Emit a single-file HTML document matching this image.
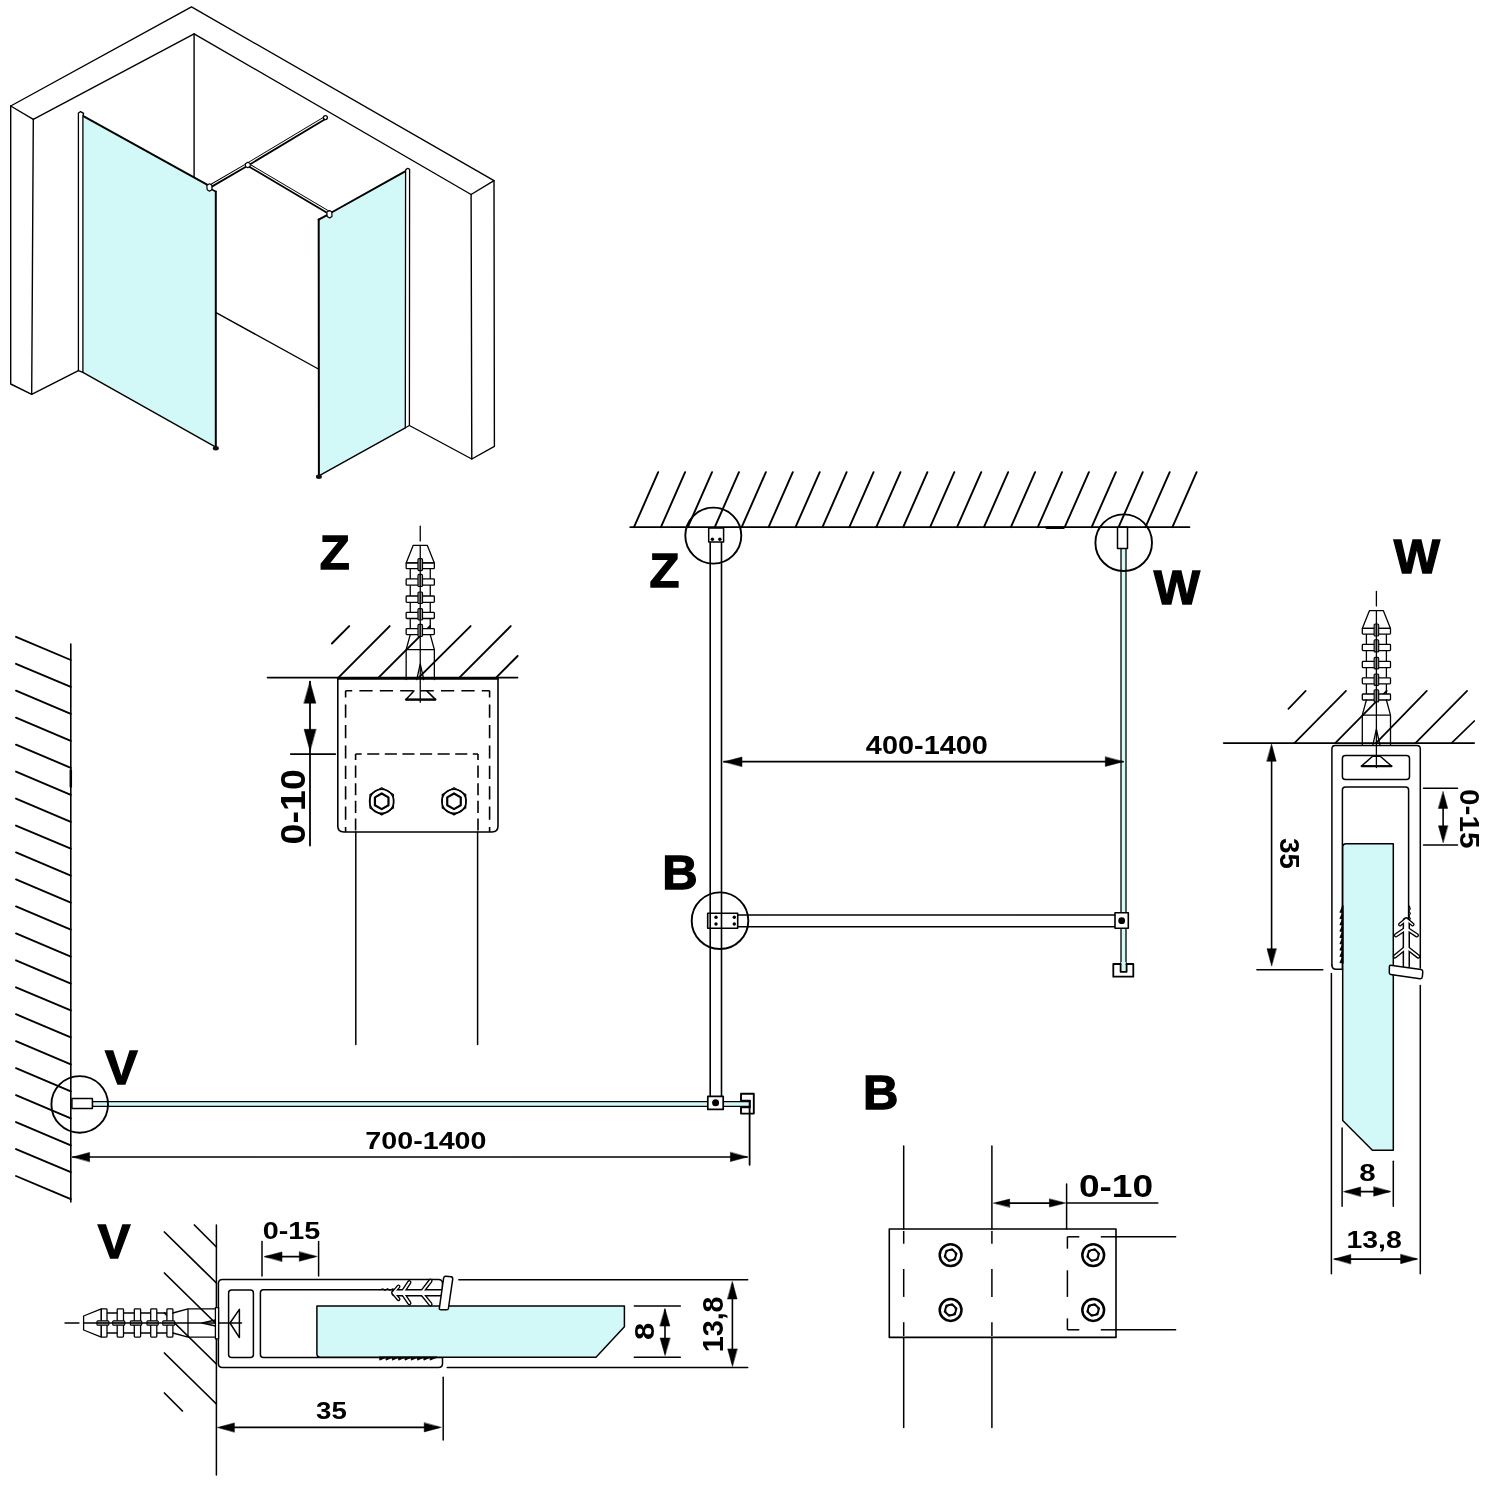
<!DOCTYPE html>
<html><head><meta charset="utf-8"><style>html,body{margin:0;padding:0;background:#fff;}svg{display:block;will-change:transform;} text{-webkit-font-smoothing:antialiased;}</style></head>
<body><svg width="1500" height="1500" viewBox="0 0 1500 1500" stroke="#000" stroke-linecap="round" stroke-linejoin="round" fill="none">
<rect x="0" y="0" width="1500" height="1500" fill="#fff" stroke="none"/>
<defs><g id="dowel" stroke="#000" fill="none" stroke-linecap="round" stroke-linejoin="round">
<path d="M-7,0 L7,0 L14.1,17.7 L-14.1,17.7 Z" stroke-width="1.3" fill="#fff" />
<line x1="-10" y1="23.4" x2="-10" y2="33.6" stroke-width="1.3" />
<line x1="10" y1="23.4" x2="10" y2="33.6" stroke-width="1.3" />
<line x1="-10" y1="39.9" x2="-10" y2="50.7" stroke-width="1.3" />
<line x1="10" y1="39.9" x2="10" y2="50.7" stroke-width="1.3" />
<line x1="-10" y1="57" x2="-10" y2="67.1" stroke-width="1.3" />
<line x1="10" y1="57" x2="10" y2="67.1" stroke-width="1.3" />
<line x1="-10" y1="73.2" x2="-10" y2="83.3" stroke-width="1.3" />
<line x1="10" y1="73.2" x2="10" y2="83.3" stroke-width="1.3" />
<rect x="-14.1" y="17.7" width="28.2" height="5.7" rx="0.8" stroke-width="1.3" fill="#fff" />
<rect x="-14.1" y="33.6" width="28.2" height="6.3" rx="0.8" stroke-width="1.3" fill="#fff" />
<rect x="-14.1" y="50.7" width="28.2" height="6.3" rx="0.8" stroke-width="1.3" fill="#fff" />
<rect x="-14.1" y="67.1" width="28.2" height="6.1" rx="0.8" stroke-width="1.3" fill="#fff" />
<rect x="-14.1" y="83.3" width="28.2" height="6" rx="0.8" stroke-width="1.3" fill="#fff" />
<path d="M-10,89.3 L-14.1,104.4 L-14.1,134.2 M10,89.3 L14.1,104.4 L14.1,134.2 M-14.1,104.4 L14.1,104.4" stroke-width="1.3" fill="none" />
<rect x="-2.3" y="13.3" width="4.6" height="12" rx="1" stroke-width="1.1" fill="#999" />
<rect x="-2.3" y="29.1" width="4.6" height="12.1" rx="1" stroke-width="1.1" fill="#999" />
<rect x="-2.3" y="46.7" width="4.6" height="11.5" rx="1" stroke-width="1.1" fill="#999" />
<rect x="-2.3" y="63.3" width="4.6" height="11.4" rx="1" stroke-width="1.1" fill="#999" />
<rect x="-2.3" y="79.1" width="4.6" height="12.1" rx="1" stroke-width="1.1" fill="#999" />
<path d="M-3.5,134.2 L0,118.5 L3.5,134.2" stroke-width="1.3" fill="none" />
</g></defs>
<g id="iso">
<path d="M82.9,115.8 L207.1,184.6 L211.5,189.2 L215.8,191.6 L215.8,447.2 L82.9,372.3 Z" stroke-width="0" fill="#d3f8f8" stroke="none"/>
<path d="M318.7,219.6 L327,215 L405.6,171.1 L405.3,427.8 L318.9,475.8 Z" stroke-width="0" fill="#d3f8f8" stroke="none"/>
<path d="M10.7,106 L191.5,6.9 L494,180.6 L471.1,194.5 L194.1,33.8 L33.3,119.3 Z" stroke-width="1.4" fill="none" />
<path d="M10.7,106 L10.7,384 L31.7,394.3 L78.4,370.6" stroke-width="1.4" fill="none" />
<line x1="33.3" y1="119.3" x2="31.7" y2="394.3" stroke-width="1.4" />
<line x1="194.1" y1="33.8" x2="194.1" y2="177.4" stroke-width="1.4" />
<path d="M494,180.6 L494.4,446.3 L471.8,459 L409.4,425.5" stroke-width="1.4" fill="none" />
<line x1="471.1" y1="194.5" x2="471.8" y2="459" stroke-width="1.4" />
<line x1="216.5" y1="312.8" x2="318.4" y2="369" stroke-width="1.4" />
<line x1="82.9" y1="115.8" x2="207.5" y2="184.8" stroke-width="2.0" />
<line x1="211.5" y1="189.2" x2="215.8" y2="191.6" stroke-width="1.6" />
<line x1="215.8" y1="191.6" x2="215.8" y2="447.2" stroke-width="2.0" />
<line x1="82.9" y1="372.3" x2="215.8" y2="447.2" stroke-width="1.4" />
<path d="M78.4,113 L80.6,111.6 L83.6,113.4 L82.9,115.8 L82.9,372.3 L78.4,370.6 Z" stroke-width="1.3" fill="#fff" />
<line x1="318.7" y1="219.6" x2="327.5" y2="214.8" stroke-width="2.0" />
<line x1="331.5" y1="212.5" x2="405.6" y2="171.1" stroke-width="2.0" />
<line x1="318.7" y1="219.6" x2="318.9" y2="475.8" stroke-width="2.0" />
<line x1="318.9" y1="475.8" x2="405.3" y2="427.8" stroke-width="1.4" />
<path d="M405.6,171.1 L405.8,169.6 L407.8,168.3 L409.6,169.4 L409.4,425.5 L405.3,427.8 Z" stroke-width="1.3" fill="#fff" />
<line x1="210" y1="186.5" x2="247.6" y2="164.6" stroke-width="3.8" />
<line x1="209.77" y1="186.11" x2="247.37" y2="164.21" stroke-width="1.1" stroke="#fff"/>
<line x1="247.6" y1="164.6" x2="324.5" y2="118.3" stroke-width="3.8" />
<line x1="247.37" y1="164.21" x2="324.27" y2="117.91" stroke-width="1.1" stroke="#fff"/>
<line x1="247.6" y1="164.6" x2="328.3" y2="212.3" stroke-width="3.8" />
<line x1="247.83" y1="164.21" x2="328.53" y2="211.91" stroke-width="1.1" stroke="#fff"/>
<path d="M206.8,185.4 L209.4,183.8 L211.8,185 L212,189.6 L209.6,191.2 L207.2,189.8 Z" stroke-width="1.2" fill="#fff" />
<path d="M326.8,212.2 L329.4,210.6 L331.8,211.8 L332,216.4 L329.6,218 L327.2,216.6 Z" stroke-width="1.2" fill="#fff" />
<path d="M245.4,163.8 L247.8,162.2 L250.2,163.6 L250.2,166.2 L247.8,167.8 L245.4,166.4 Z" stroke-width="1.1" fill="#fff" />
<circle cx="325.4" cy="117.6" r="2" stroke-width="1.3" fill="#fff" />
<ellipse cx="215.8" cy="448.3" rx="3" ry="2.2" fill="#111" stroke="none"/>
<ellipse cx="318.9" cy="476.8" rx="3" ry="2.2" fill="#111" stroke="none"/>
</g>
<g id="plan">
<line x1="630.3" y1="527.2" x2="1189.4" y2="527.2" stroke-width="1.8" />
<line x1="1046.6" y1="527.6" x2="1063.6" y2="527.6" stroke-width="2.6" />
<line x1="634" y1="527.2" x2="658.2" y2="472.2" stroke-width="1.9" />
<line x1="660.92" y1="527.2" x2="685.12" y2="472.2" stroke-width="1.9" />
<line x1="687.84" y1="527.2" x2="712.04" y2="472.2" stroke-width="1.9" />
<line x1="714.76" y1="527.2" x2="738.96" y2="472.2" stroke-width="1.9" />
<line x1="741.68" y1="527.2" x2="765.88" y2="472.2" stroke-width="1.9" />
<line x1="768.6" y1="527.2" x2="792.8" y2="472.2" stroke-width="1.9" />
<line x1="795.52" y1="527.2" x2="819.72" y2="472.2" stroke-width="1.9" />
<line x1="822.44" y1="527.2" x2="846.64" y2="472.2" stroke-width="1.9" />
<line x1="849.36" y1="527.2" x2="873.56" y2="472.2" stroke-width="1.9" />
<line x1="876.28" y1="527.2" x2="900.48" y2="472.2" stroke-width="1.9" />
<line x1="903.2" y1="527.2" x2="927.4" y2="472.2" stroke-width="1.9" />
<line x1="930.12" y1="527.2" x2="954.32" y2="472.2" stroke-width="1.9" />
<line x1="957.04" y1="527.2" x2="981.24" y2="472.2" stroke-width="1.9" />
<line x1="983.96" y1="527.2" x2="1008.16" y2="472.2" stroke-width="1.9" />
<line x1="1010.88" y1="527.2" x2="1035.08" y2="472.2" stroke-width="1.9" />
<line x1="1037.8" y1="527.2" x2="1062" y2="472.2" stroke-width="1.9" />
<line x1="1064.72" y1="527.2" x2="1088.92" y2="472.2" stroke-width="1.9" />
<line x1="1091.64" y1="527.2" x2="1115.84" y2="472.2" stroke-width="1.9" />
<line x1="1118.56" y1="527.2" x2="1142.76" y2="472.2" stroke-width="1.9" />
<line x1="1145.48" y1="527.2" x2="1169.68" y2="472.2" stroke-width="1.9" />
<line x1="1172.4" y1="527.2" x2="1196.6" y2="472.2" stroke-width="1.9" />
<line x1="70.8" y1="644" x2="70.8" y2="1202" stroke-width="1.6" />
<line x1="70.8" y1="770.5" x2="70.8" y2="786.5" stroke-width="2.5" />
<line x1="16" y1="636.8" x2="70.8" y2="660" stroke-width="1.9" />
<line x1="16" y1="663.76" x2="70.8" y2="686.96" stroke-width="1.9" />
<line x1="16" y1="690.72" x2="70.8" y2="713.92" stroke-width="1.9" />
<line x1="16" y1="717.68" x2="70.8" y2="740.88" stroke-width="1.9" />
<line x1="16" y1="744.64" x2="70.8" y2="767.84" stroke-width="1.9" />
<line x1="16" y1="771.6" x2="70.8" y2="794.8" stroke-width="1.9" />
<line x1="16" y1="798.56" x2="70.8" y2="821.76" stroke-width="1.9" />
<line x1="16" y1="825.52" x2="70.8" y2="848.72" stroke-width="1.9" />
<line x1="16" y1="852.48" x2="70.8" y2="875.68" stroke-width="1.9" />
<line x1="16" y1="879.44" x2="70.8" y2="902.64" stroke-width="1.9" />
<line x1="16" y1="906.4" x2="70.8" y2="929.6" stroke-width="1.9" />
<line x1="16" y1="933.36" x2="70.8" y2="956.56" stroke-width="1.9" />
<line x1="16" y1="960.32" x2="70.8" y2="983.52" stroke-width="1.9" />
<line x1="16" y1="987.28" x2="70.8" y2="1010.48" stroke-width="1.9" />
<line x1="16" y1="1014.24" x2="70.8" y2="1037.44" stroke-width="1.9" />
<line x1="16" y1="1041.2" x2="70.8" y2="1064.4" stroke-width="1.9" />
<line x1="16" y1="1068.16" x2="70.8" y2="1091.36" stroke-width="1.9" />
<line x1="16" y1="1095.12" x2="70.8" y2="1118.32" stroke-width="1.9" />
<line x1="16" y1="1122.08" x2="70.8" y2="1145.28" stroke-width="1.9" />
<line x1="16" y1="1149.04" x2="70.8" y2="1172.24" stroke-width="1.9" />
<line x1="16" y1="1176" x2="70.8" y2="1199.2" stroke-width="1.9" />
<line x1="710.2" y1="542" x2="710.2" y2="1096.4" stroke-width="1.6" />
<line x1="721.5" y1="542" x2="721.5" y2="1096.4" stroke-width="1.6" />
<rect x="708.7" y="528.1" width="14.9" height="14" rx="0" stroke-width="1.5" fill="#fff" />
<circle cx="712.4" cy="539.3" r="1.7" stroke-width="0" fill="#000" stroke="none"/>
<circle cx="719.9" cy="539.3" r="1.7" stroke-width="0" fill="#000" stroke="none"/>
<circle cx="713.3" cy="535.6" r="28" stroke-width="1.9" fill="none" />
<text x="664.35" y="587.3" font-size="49" text-anchor="middle" stroke="#000" stroke-width="1.3" stroke-linejoin="miter" fill="#000" font-family="Liberation Sans, sans-serif" font-weight="bold">Z</text>
<rect x="1121" y="548.4" width="5" height="415.6" rx="0" stroke-width="1.3" fill="#d3f8f8" />
<rect x="1117.5" y="527.3" width="10" height="21.1" rx="0" stroke-width="1.5" fill="#fff" />
<circle cx="1123.7" cy="542.7" r="28.3" stroke-width="1.9" fill="none" />
<text x="1176.95" y="604.4" font-size="49" text-anchor="middle" stroke="#000" stroke-width="1.3" stroke-linejoin="miter" fill="#000" font-family="Liberation Sans, sans-serif" font-weight="bold">W</text>
<line x1="737.7" y1="915" x2="1115" y2="915" stroke-width="1.6" />
<line x1="737.7" y1="926.7" x2="1115" y2="926.7" stroke-width="1.6" />
<rect x="1115" y="912.7" width="13.3" height="15.6" rx="0" stroke-width="1.6" fill="#fff" />
<circle cx="1121.7" cy="920.7" r="3.4" stroke-width="0" fill="#000" stroke="none"/>
<rect x="1113.3" y="964" width="20" height="12.7" rx="0" stroke-width="1.8" fill="#fff" />
<rect x="1121.2" y="962" width="4.6" height="9" rx="0" stroke-width="0" fill="#d3f8f8" stroke="none"/>
<path d="M1120.6,964 L1120.6,971.8 L1126.6,971.8 L1126.6,964" stroke-width="1.8" fill="none" />
<rect x="707.7" y="913.3" width="30" height="15" rx="0" stroke-width="1.6" fill="none" />
<circle cx="716" cy="917.3" r="1.7" stroke-width="0" fill="#000" stroke="none"/>
<circle cx="716" cy="924" r="1.7" stroke-width="0" fill="#000" stroke="none"/>
<circle cx="734.3" cy="917.3" r="1.7" stroke-width="0" fill="#000" stroke="none"/>
<circle cx="734.3" cy="924" r="1.7" stroke-width="0" fill="#000" stroke="none"/>
<circle cx="720" cy="920.7" r="28.3" stroke-width="1.9" fill="none" />
<text x="680" y="889.4" font-size="49" text-anchor="middle" stroke="#000" stroke-width="1.3" stroke-linejoin="miter" fill="#000" font-family="Liberation Sans, sans-serif" font-weight="bold">B</text>
<line x1="724" y1="761.7" x2="1123" y2="761.7" stroke-width="1.7" />
<path d="M724,761.7 L742,757 L742,766.4 Z" stroke-width="0.5" fill="#000" />
<path d="M1123.3,761.7 L1105.3,766.4 L1105.3,757 Z" stroke-width="0.5" fill="#000" />
<text x="926.9" y="753.8" font-size="26.2" text-anchor="middle" textLength="122.03" lengthAdjust="spacingAndGlyphs" stroke="none" fill="#000" font-family="Liberation Sans, sans-serif" font-weight="bold">400-1400</text>
<rect x="92.4" y="1101.6" width="657.6" height="4.8" rx="0" stroke-width="1.4" fill="#d3f8f8" />
<rect x="71.9" y="1098.5" width="20.5" height="9.9" rx="0" stroke-width="1.5" fill="#fff" />
<circle cx="79.7" cy="1104.4" r="28.3" stroke-width="1.9" fill="none" />
<text x="121.35" y="1083.9" font-size="49" text-anchor="middle" stroke="#000" stroke-width="1.3" stroke-linejoin="miter" fill="#000" font-family="Liberation Sans, sans-serif" font-weight="bold">V</text>
<rect x="707.8" y="1096.4" width="15.4" height="13" rx="0" stroke-width="1.7" fill="#fff" />
<circle cx="715.6" cy="1102.8" r="3.5" stroke-width="0" fill="#000" stroke="none"/>
<path d="M750,1100.8 L741,1100.8 L741,1093.8 L753.8,1093.8 L753.8,1113.6 L741,1113.6 L741,1107.2 L750,1107.2" stroke-width="1.9" fill="none" />
<line x1="749.6" y1="1100.8" x2="749.6" y2="1164.8" stroke-width="1.8" />
<line x1="72.8" y1="1157" x2="747" y2="1157" stroke-width="1.7" />
<path d="M72.8,1157 L89.6,1152.4 L89.6,1161.6 Z" stroke-width="0.5" fill="#000" />
<path d="M747.2,1157 L730.4,1161.6 L730.4,1152.4 Z" stroke-width="0.5" fill="#000" />
<text x="425.9" y="1148.5" font-size="24.65" text-anchor="middle" textLength="121.13" lengthAdjust="spacingAndGlyphs" stroke="none" fill="#000" font-family="Liberation Sans, sans-serif" font-weight="bold">700-1400</text>
</g>
<g id="zdet">
<text x="334.65" y="568.8" font-size="49" text-anchor="middle" stroke="#000" stroke-width="1.3" stroke-linejoin="miter" fill="#000" font-family="Liberation Sans, sans-serif" font-weight="bold">Z</text>
<line x1="331.9" y1="643.5" x2="349.2" y2="626.1" stroke-width="1.9" />
<line x1="338.4" y1="677.6" x2="389.7" y2="626.1" stroke-width="1.9" />
<line x1="378.5" y1="677.6" x2="430" y2="626.1" stroke-width="1.9" />
<line x1="418.7" y1="677.6" x2="470.6" y2="626.1" stroke-width="1.9" />
<line x1="459.4" y1="677.6" x2="510.7" y2="626.1" stroke-width="1.9" />
<line x1="496.1" y1="677.6" x2="517.6" y2="656" stroke-width="1.9" />
<path d="M337.8,678.5 L337.8,826 Q337.8,832 343.8,832 L492,832 Q498,832 498,826 L498,678.5" stroke-width="1.6" fill="#fff" />
<line x1="267.5" y1="677.6" x2="517.6" y2="677.6" stroke-width="1.6" />
<line x1="337.8" y1="678.6" x2="498" y2="678.6" stroke-width="2.2" />
<g stroke-dasharray="13.2 7.2" stroke-dashoffset="6.6" stroke-linecap="butt">
<path d="M345.6,690.8 L489.6,690.8" stroke-width="1.6" fill="none" />
<path d="M345.6,690.8 L345.6,832" stroke-width="1.6" fill="none" />
<path d="M489.6,690.8 L489.6,832" stroke-width="1.6" fill="none" />
</g>
<g stroke-dasharray="12.1 5.5" stroke-dashoffset="6" stroke-linecap="butt">
<path d="M355.6,754 L478,754" stroke-width="1.6" fill="none" />
<path d="M355.6,754 L355.6,832" stroke-width="1.6" fill="none" />
<path d="M478,754 L478,832" stroke-width="1.6" fill="none" />
</g>
<line x1="355.8" y1="832" x2="355.8" y2="1044.6" stroke-width="1.5" />
<line x1="477.6" y1="832" x2="477.6" y2="1044.6" stroke-width="1.5" />
<circle cx="381.7" cy="801.3" r="12.09" stroke-width="1.6" fill="#fff" />
<path d="M381.7,787.78 L393.41,794.54 L393.41,808.06 L381.7,814.82 L369.99,808.06 L369.99,794.54 Z" stroke-width="1.3" fill="none" />
<path d="M381.7,793.48 L388.47,797.39 L388.47,805.21 L381.7,809.12 L374.93,805.21 L374.93,797.39 Z" stroke-width="2.2" fill="none" />
<circle cx="454" cy="801.3" r="12.09" stroke-width="1.6" fill="#fff" />
<path d="M454,787.78 L465.71,794.54 L465.71,808.06 L454,814.82 L442.29,808.06 L442.29,794.54 Z" stroke-width="1.3" fill="none" />
<path d="M454,793.48 L460.77,797.39 L460.77,805.21 L454,809.12 L447.23,805.21 L447.23,797.39 Z" stroke-width="2.2" fill="none" />
<use href="#dowel" transform="translate(420.25,545.3) rotate(0)"/>
<line x1="420.25" y1="526.1" x2="420.25" y2="540.9" stroke-width="1.3" />
<line x1="420.25" y1="545.3" x2="420.25" y2="702.3" stroke-width="1.3" />
<path d="M413.9,690.9 L406,699.4 L435.4,699.4 L426.8,690.9" stroke-width="1.5" fill="none" />
<line x1="406" y1="699.6" x2="435.4" y2="699.6" stroke-width="2.2" />
<line x1="310" y1="681.7" x2="310" y2="845.6" stroke-width="1.8" />
<path d="M310,681.7 L315.9,703.2 L304.1,703.2 Z" stroke-width="0.5" fill="#000" />
<path d="M310,750.8 L304.1,729.3 L315.9,729.3 Z" stroke-width="0.5" fill="#000" />
<line x1="290.8" y1="754.1" x2="335.3" y2="754.1" stroke-width="1.8" />
<text transform="translate(292.8,806.8) rotate(-90)" x="0" y="12.4" font-size="34.93" text-anchor="middle" textLength="75.25" lengthAdjust="spacingAndGlyphs" stroke="none" fill="#000" font-family="Liberation Sans, sans-serif" font-weight="bold">0-10</text>
</g>
<g id="wdet">
<text x="1416.75" y="572.7" font-size="49" text-anchor="middle" stroke="#000" stroke-width="1.3" stroke-linejoin="miter" fill="#000" font-family="Liberation Sans, sans-serif" font-weight="bold">W</text>
<line x1="1288.4" y1="708.8" x2="1305.7" y2="690.8" stroke-width="1.7" />
<line x1="1294.4" y1="743.1" x2="1346" y2="690.8" stroke-width="1.7" />
<line x1="1335.2" y1="743.1" x2="1386.7" y2="690.8" stroke-width="1.7" />
<line x1="1376" y1="743.1" x2="1426.8" y2="690.8" stroke-width="1.7" />
<line x1="1415.5" y1="743.1" x2="1467.1" y2="690.8" stroke-width="1.7" />
<line x1="1451.5" y1="743.1" x2="1474.3" y2="721" stroke-width="1.7" />
<line x1="1223.6" y1="743.1" x2="1474.3" y2="743.1" stroke-width="1.6" />
<use href="#dowel" transform="translate(1376.4,610.7) rotate(0)"/>
<line x1="1376.4" y1="591.5" x2="1376.4" y2="605.9" stroke-width="1.3" />
<line x1="1376.4" y1="610.7" x2="1376.4" y2="776" stroke-width="1.3" />
<path d="M1331.9,965 L1331.9,749 Q1331.9,745.5 1335.1,745.5 L1416.8,745.5 Q1420.3,745.5 1420.3,749 L1420.3,968" stroke-width="1.5" fill="#fff" />
<rect x="1342.4" y="755.6" width="67.1" height="24" rx="3" stroke-width="1.5" fill="none" />
<path d="M1342.4,969 L1342.4,790 Q1342.4,787 1345.4,787 L1405.6,787 Q1408.6,787 1408.6,790 L1408.6,966" stroke-width="1.5" fill="none" />
<path d="M1372.6,756.3 L1380.2,756.3 L1391.5,766 L1361.6,766 Z" stroke-width="1.5" fill="none" />
<path d="M1342.7,847 Q1342.7,843.7 1346,843.7 L1393.3,843.7 L1393.3,1150.2 L1372.4,1150.2 L1342.7,1120.5 Z" stroke-width="1.5" fill="#d3f8f8" />
<path d="M1342.7,906 L1339.9,912.3 L1342.7,912.3 L1339.9,918.6 L1342.7,918.6 L1339.9,924.9 L1342.7,924.9 L1339.9,931.2 L1342.7,931.2 L1339.9,937.5 L1342.7,937.5 L1339.9,943.8 L1342.7,943.8 L1339.9,950.1 L1342.7,950.1 L1339.9,956.4 L1342.7,956.4 L1339.9,962.7 L1342.7,962.7" stroke-width="0.9" fill="#000" />
<line x1="1342.7" y1="906" x2="1342.7" y2="963" stroke-width="1.8" />
<path d="M1331.9,965 Q1331.9,969.2 1336,969.2 L1342.6,969.2" stroke-width="1.5" fill="none" />
<path d="M1409.3,906 L1410.2,909 L1408.8,911 L1410.4,913.5 L1408.8,916 L1410.2,918.5 L1409.3,921" stroke-width="1.2" fill="none" />
<line x1="1405.3" y1="929" x2="1396" y2="935.3" stroke-width="4.4" stroke="#000"/>
<line x1="1405.3" y1="948" x2="1395" y2="956.4" stroke-width="4.4" stroke="#000"/>
<line x1="1407.3" y1="929" x2="1416.8" y2="935.3" stroke-width="4.4" stroke="#000"/>
<line x1="1407.3" y1="948" x2="1418.2" y2="956.4" stroke-width="4.4" stroke="#000"/>
<path d="M1400,924.5 L1406.3,919.2 L1412.6,924.5" stroke-width="4.0" fill="none" stroke="#000"/>
<line x1="1406.3" y1="921" x2="1406.3" y2="966" stroke-width="7.4" stroke="#000"/>
<line x1="1405.3" y1="929" x2="1396" y2="935.3" stroke-width="1.7" stroke="#fff"/>
<line x1="1405.3" y1="948" x2="1395" y2="956.4" stroke-width="1.7" stroke="#fff"/>
<line x1="1407.3" y1="929" x2="1416.8" y2="935.3" stroke-width="1.7" stroke="#fff"/>
<line x1="1407.3" y1="948" x2="1418.2" y2="956.4" stroke-width="1.7" stroke="#fff"/>
<path d="M1400,924.5 L1406.3,919.2 L1412.6,924.5" stroke-width="1.4" fill="none" stroke="#fff"/>
<line x1="1406.3" y1="922" x2="1406.3" y2="967" stroke-width="4.4" stroke="#fff"/>
<path d="M1390.5,965.3 L1421,969.6 Q1422.9,970 1422.8,972 L1422.3,977 Q1422,979 1420,978.7 L1390.6,974.4 Q1389.2,974.2 1389.3,972.5 L1389.4,967 Q1389.5,965.2 1390.5,965.3 Z" stroke-width="1.5" fill="#fff" />
<line x1="1376.4" y1="745" x2="1376.4" y2="767.5" stroke-width="1.3" />
<line x1="1361.6" y1="766.2" x2="1391.5" y2="766.2" stroke-width="2.0" />
<line x1="1423.5" y1="788.2" x2="1457.5" y2="788.2" stroke-width="1.5" />
<line x1="1423.5" y1="845.1" x2="1457.5" y2="845.1" stroke-width="1.5" />
<line x1="1443.1" y1="796" x2="1443.1" y2="838" stroke-width="1.6" />
<path d="M1443.1,791.7 L1447.7,808.4 L1438.5,808.4 Z" stroke-width="0.5" fill="#000" />
<path d="M1443.1,842.5 L1438.5,825.8 L1447.7,825.8 Z" stroke-width="0.5" fill="#000" />
<text transform="translate(1469.55,818.75) rotate(90)" x="0" y="9.55" font-size="26.9" text-anchor="middle" textLength="59.38" lengthAdjust="spacingAndGlyphs" stroke="none" fill="#000" font-family="Liberation Sans, sans-serif" font-weight="bold">0-15</text>
<line x1="1271.6" y1="748" x2="1271.6" y2="962" stroke-width="1.6" />
<path d="M1271.6,744.3 L1276.2,761.3 L1267,761.3 Z" stroke-width="0.5" fill="#000" />
<path d="M1271.6,965.7 L1267,948.7 L1276.2,948.7 Z" stroke-width="0.5" fill="#000" />
<line x1="1256.9" y1="969.7" x2="1322.8" y2="969.7" stroke-width="1.5" />
<text transform="translate(1289.6,853.45) rotate(90)" x="0" y="9.6" font-size="27.04" text-anchor="middle" textLength="30.79" lengthAdjust="spacingAndGlyphs" stroke="none" fill="#000" font-family="Liberation Sans, sans-serif" font-weight="bold">35</text>
<line x1="1331.4" y1="973.4" x2="1331.4" y2="1273.8" stroke-width="1.5" />
<line x1="1420.3" y1="985.6" x2="1420.3" y2="1273.8" stroke-width="1.5" />
<line x1="1342.1" y1="1128" x2="1342.1" y2="1206.3" stroke-width="1.5" />
<line x1="1393.3" y1="1161.3" x2="1393.3" y2="1206.3" stroke-width="1.5" />
<line x1="1346" y1="1191.6" x2="1389" y2="1191.6" stroke-width="1.6" />
<path d="M1343.8,1191.6 L1360.7,1187 L1360.7,1196.2 Z" stroke-width="0.5" fill="#000" />
<path d="M1390.6,1191.6 L1373.7,1196.2 L1373.7,1187 Z" stroke-width="0.5" fill="#000" />
<text x="1367.55" y="1180.9" font-size="24.65" text-anchor="middle" textLength="16.43" lengthAdjust="spacingAndGlyphs" stroke="none" fill="#000" font-family="Liberation Sans, sans-serif" font-weight="bold">8</text>
<line x1="1335" y1="1259.1" x2="1416" y2="1259.1" stroke-width="1.6" />
<path d="M1333.9,1259.1 L1350.8,1254.5 L1350.8,1263.7 Z" stroke-width="0.5" fill="#000" />
<path d="M1417.5,1259.1 L1400.6,1263.7 L1400.6,1254.5 Z" stroke-width="0.5" fill="#000" />
<text x="1374.15" y="1247.7" font-size="23.66" text-anchor="middle" textLength="55.36" lengthAdjust="spacingAndGlyphs" stroke="none" fill="#000" font-family="Liberation Sans, sans-serif" font-weight="bold">13,8</text>
</g>
<g id="vdet">
<text x="114.2" y="1257.8" font-size="49" text-anchor="middle" stroke="#000" stroke-width="1.3" stroke-linejoin="miter" fill="#000" font-family="Liberation Sans, sans-serif" font-weight="bold">V</text>
<line x1="194.4" y1="1225" x2="216.4" y2="1247" stroke-width="1.7" />
<line x1="164.4" y1="1232" x2="216.4" y2="1283" stroke-width="1.7" />
<line x1="164.4" y1="1273" x2="216.4" y2="1324" stroke-width="1.7" />
<line x1="164.4" y1="1313" x2="216.4" y2="1364" stroke-width="1.7" />
<line x1="164.4" y1="1353" x2="216.4" y2="1404" stroke-width="1.7" />
<line x1="164.4" y1="1393" x2="182.4" y2="1411" stroke-width="1.7" />
<path d="M442.5,1289.8 L442.5,1283.4 Q442.5,1279.4 438.5,1279.4 L222.4,1279.4 Q218.4,1279.4 218.4,1283.4 L218.4,1363.5 Q218.4,1367.5 222.4,1367.5 L438.5,1367.5 Q442.5,1367.5 442.5,1363.5 L442.5,1357.4" stroke-width="1.5" fill="#fff" />
<rect x="228.6" y="1290" width="24.8" height="67.4" rx="3" stroke-width="1.5" fill="none" />
<path d="M442.5,1289.8 L263.4,1289.8 Q260.4,1289.8 260.4,1292.8 L260.4,1354.4 Q260.4,1357.4 263.4,1357.4 L442.5,1357.4" stroke-width="1.5" fill="none" />
<line x1="216.4" y1="1225" x2="216.4" y2="1475" stroke-width="1.5" />
<use href="#dowel" transform="translate(83.6,1323) rotate(-90)"/>
<line x1="65" y1="1323" x2="79" y2="1323" stroke-width="1.3" />
<line x1="83.6" y1="1323" x2="241.6" y2="1323" stroke-width="1.3" />
<rect x="215.4" y="1307.6" width="3.2" height="31.2" rx="0" stroke-width="1.3" fill="#fff" />
<path d="M230,1323 L239.4,1309.4 L239.4,1337.6 Z" stroke-width="1.5" fill="none" />
<path d="M316.9,1306.1 L624.4,1306.1 L624.4,1326.7 L596,1357.3 L320.4,1357.3 Q316.9,1357.3 316.9,1353.8 Z" stroke-width="1.5" fill="#d3f8f8" />
<path d="M436.5,1357.3 L430.2,1360.1 L430.2,1357.3 L423.9,1360.1 L423.9,1357.3 L417.6,1360.1 L417.6,1357.3 L411.3,1360.1 L411.3,1357.3 L405,1360.1 L405,1357.3 L398.7,1360.1 L398.7,1357.3 L392.4,1360.1 L392.4,1357.3 L386.1,1360.1 L386.1,1357.3 L379.8,1360.1 L379.8,1357.3" stroke-width="0.9" fill="#000" />
<line x1="379.7" y1="1357.3" x2="436.5" y2="1357.3" stroke-width="1.8" />
<g transform="translate(-526,2699.1) rotate(-90)">
<path d="M1409.3,906 L1410.2,909 L1408.8,911 L1410.4,913.5 L1408.8,916 L1410.2,918.5 L1409.3,921" stroke-width="1.2" fill="none" />
<line x1="1405.3" y1="929" x2="1396" y2="935.3" stroke-width="4.4" stroke="#000"/>
<line x1="1405.3" y1="948" x2="1395" y2="956.4" stroke-width="4.4" stroke="#000"/>
<line x1="1407.3" y1="929" x2="1416.8" y2="935.3" stroke-width="4.4" stroke="#000"/>
<line x1="1407.3" y1="948" x2="1418.2" y2="956.4" stroke-width="4.4" stroke="#000"/>
<path d="M1400,924.5 L1406.3,919.2 L1412.6,924.5" stroke-width="4.0" fill="none" stroke="#000"/>
<line x1="1406.3" y1="921" x2="1406.3" y2="966" stroke-width="7.4" stroke="#000"/>
<line x1="1405.3" y1="929" x2="1396" y2="935.3" stroke-width="1.7" stroke="#fff"/>
<line x1="1405.3" y1="948" x2="1395" y2="956.4" stroke-width="1.7" stroke="#fff"/>
<line x1="1407.3" y1="929" x2="1416.8" y2="935.3" stroke-width="1.7" stroke="#fff"/>
<line x1="1407.3" y1="948" x2="1418.2" y2="956.4" stroke-width="1.7" stroke="#fff"/>
<path d="M1400,924.5 L1406.3,919.2 L1412.6,924.5" stroke-width="1.4" fill="none" stroke="#fff"/>
<line x1="1406.3" y1="922" x2="1406.3" y2="967" stroke-width="4.4" stroke="#fff"/>
<path d="M1390.5,965.3 L1421,969.6 Q1422.9,970 1422.8,972 L1422.3,977 Q1422,979 1420,978.7 L1390.6,974.4 Q1389.2,974.2 1389.3,972.5 L1389.4,967 Q1389.5,965.2 1390.5,965.3 Z" stroke-width="1.5" fill="#fff" />
</g>
<line x1="262" y1="1241.4" x2="262" y2="1276" stroke-width="1.5" />
<line x1="318.6" y1="1241.4" x2="318.6" y2="1276" stroke-width="1.5" />
<line x1="266" y1="1256.6" x2="314" y2="1256.6" stroke-width="1.6" />
<path d="M264.4,1256.6 L282,1251.9 L282,1261.3 Z" stroke-width="0.5" fill="#000" />
<path d="M316.9,1256.6 L299.3,1261.3 L299.3,1251.9 Z" stroke-width="0.5" fill="#000" />
<text x="291.6" y="1238.6" font-size="23.38" text-anchor="middle" textLength="57.64" lengthAdjust="spacingAndGlyphs" stroke="none" fill="#000" font-family="Liberation Sans, sans-serif" font-weight="bold">0-15</text>
<line x1="458.8" y1="1279.7" x2="747.7" y2="1279.7" stroke-width="1.5" />
<line x1="447.2" y1="1367.4" x2="747.7" y2="1367.4" stroke-width="1.5" />
<line x1="634.3" y1="1306.1" x2="680.3" y2="1306.1" stroke-width="1.5" />
<line x1="634.3" y1="1357.3" x2="680.3" y2="1357.3" stroke-width="1.5" />
<line x1="665" y1="1310" x2="665" y2="1353" stroke-width="1.6" />
<path d="M665,1308.8 L669.9,1326.1 L660.1,1326.1 Z" stroke-width="0.5" fill="#000" />
<path d="M665,1355.3 L660.1,1338 L669.9,1338 Z" stroke-width="0.5" fill="#000" />
<text transform="translate(644.55,1331.3) rotate(-90)" x="0" y="9.65" font-size="27.18" text-anchor="middle" textLength="17.3" lengthAdjust="spacingAndGlyphs" stroke="none" fill="#000" font-family="Liberation Sans, sans-serif" font-weight="bold">8</text>
<line x1="732.4" y1="1284" x2="732.4" y2="1363" stroke-width="1.6" />
<path d="M732.4,1281.7 L737.1,1299 L727.7,1299 Z" stroke-width="0.5" fill="#000" />
<path d="M732.4,1366.2 L727.7,1348.9 L737.1,1348.9 Z" stroke-width="0.5" fill="#000" />
<text transform="translate(712.5,1324.35) rotate(-90)" x="0" y="10.7" font-size="30.14" text-anchor="middle" textLength="55.81" lengthAdjust="spacingAndGlyphs" stroke="none" fill="#000" font-family="Liberation Sans, sans-serif" font-weight="bold">13,8</text>
<line x1="221" y1="1427.4" x2="438" y2="1427.4" stroke-width="1.6" />
<path d="M217.6,1427.4 L234.4,1422.9 L234.4,1431.9 Z" stroke-width="0.5" fill="#000" />
<path d="M441,1427.4 L424.2,1431.9 L424.2,1422.9 Z" stroke-width="0.5" fill="#000" />
<line x1="443.2" y1="1377.3" x2="443.2" y2="1440" stroke-width="1.5" />
<text x="331.45" y="1418.7" font-size="23.8" text-anchor="middle" textLength="30.77" lengthAdjust="spacingAndGlyphs" stroke="none" fill="#000" font-family="Liberation Sans, sans-serif" font-weight="bold">35</text>
</g>
<g id="bdet">
<text x="880.65" y="1108.8" font-size="49" text-anchor="middle" stroke="#000" stroke-width="1.3" stroke-linejoin="miter" fill="#000" font-family="Liberation Sans, sans-serif" font-weight="bold">B</text>
<rect x="889.3" y="1229" width="226.7" height="108.4" rx="0" stroke-width="1.6" fill="#fff" />
<line x1="903.7" y1="1146.1" x2="903.7" y2="1229" stroke-width="1.5" />
<line x1="903.7" y1="1337.4" x2="903.7" y2="1427.4" stroke-width="1.5" />
<line x1="903.7" y1="1231" x2="903.7" y2="1243.7" stroke-width="1.5" stroke-linecap="butt"/>
<line x1="903.7" y1="1269" x2="903.7" y2="1296.9" stroke-width="1.5" stroke-linecap="butt"/>
<line x1="903.7" y1="1322.2" x2="903.7" y2="1336" stroke-width="1.5" stroke-linecap="butt"/>
<line x1="991.9" y1="1146.1" x2="991.9" y2="1229" stroke-width="1.5" />
<line x1="991.9" y1="1337.4" x2="991.9" y2="1427.4" stroke-width="1.5" />
<line x1="991.9" y1="1231" x2="991.9" y2="1243.7" stroke-width="1.5" stroke-linecap="butt"/>
<line x1="991.9" y1="1269" x2="991.9" y2="1296.9" stroke-width="1.5" stroke-linecap="butt"/>
<line x1="991.9" y1="1322.2" x2="991.9" y2="1336" stroke-width="1.5" stroke-linecap="butt"/>
<line x1="1067.4" y1="1236.8" x2="1079.3" y2="1236.8" stroke-width="1.5" stroke-linecap="butt"/>
<line x1="1067.4" y1="1329.8" x2="1079.3" y2="1329.8" stroke-width="1.5" stroke-linecap="butt"/>
<line x1="1100.8" y1="1236.8" x2="1116" y2="1236.8" stroke-width="1.5" stroke-linecap="butt"/>
<line x1="1100.8" y1="1329.8" x2="1116" y2="1329.8" stroke-width="1.5" stroke-linecap="butt"/>
<line x1="1067.4" y1="1236.8" x2="1067.4" y2="1248.7" stroke-width="1.5" stroke-linecap="butt"/>
<line x1="1067.4" y1="1270.3" x2="1067.4" y2="1296.9" stroke-width="1.5" stroke-linecap="butt"/>
<line x1="1067.4" y1="1318.4" x2="1067.4" y2="1329.8" stroke-width="1.5" stroke-linecap="butt"/>
<line x1="1116" y1="1236.8" x2="1175.6" y2="1236.8" stroke-width="1.5" />
<line x1="1116" y1="1329.8" x2="1175.6" y2="1329.8" stroke-width="1.5" />
<line x1="997" y1="1203.1" x2="1062" y2="1203.1" stroke-width="1.6" />
<path d="M993.7,1203.1 L1009.7,1199.1 L1009.7,1207.1 Z" stroke-width="0.5" fill="#000" />
<path d="M1065.4,1203.1 L1049.4,1207.1 L1049.4,1199.1 Z" stroke-width="0.5" fill="#000" />
<line x1="1066.6" y1="1184.1" x2="1066.6" y2="1229" stroke-width="1.5" />
<line x1="1066.6" y1="1203.1" x2="1157.8" y2="1203.1" stroke-width="1.5" />
<text x="1116" y="1196.8" font-size="32.11" text-anchor="middle" textLength="74.25" lengthAdjust="spacingAndGlyphs" stroke="none" fill="#000" font-family="Liberation Sans, sans-serif" font-weight="bold">0-10</text>
<circle cx="950.6" cy="1255.1" r="10.9" stroke-width="2.5" fill="#fff" />
<circle cx="950.6" cy="1255.1" r="5" stroke-width="1.3" fill="none" />
<path d="M952.23,1249.01 L956.69,1253.47 L955.05,1259.55 L948.97,1261.19 L944.51,1256.73 L946.15,1250.65 Z" stroke-width="1.5" fill="none" />
<circle cx="950.6" cy="1310" r="10.9" stroke-width="2.5" fill="#fff" />
<circle cx="950.6" cy="1310" r="5" stroke-width="1.3" fill="none" />
<path d="M952.23,1303.91 L956.69,1308.37 L955.05,1314.45 L948.97,1316.09 L944.51,1311.63 L946.15,1305.55 Z" stroke-width="1.5" fill="none" />
<circle cx="1093.2" cy="1255.1" r="10.9" stroke-width="2.5" fill="#fff" />
<circle cx="1093.2" cy="1255.1" r="5" stroke-width="1.3" fill="none" />
<path d="M1094.83,1249.01 L1099.29,1253.47 L1097.65,1259.55 L1091.57,1261.19 L1087.11,1256.73 L1088.75,1250.65 Z" stroke-width="1.5" fill="none" />
<circle cx="1093.2" cy="1310" r="10.9" stroke-width="2.5" fill="#fff" />
<circle cx="1093.2" cy="1310" r="5" stroke-width="1.3" fill="none" />
<path d="M1094.83,1303.91 L1099.29,1308.37 L1097.65,1314.45 L1091.57,1316.09 L1087.11,1311.63 L1088.75,1305.55 Z" stroke-width="1.5" fill="none" />
</g></svg></body></html>
